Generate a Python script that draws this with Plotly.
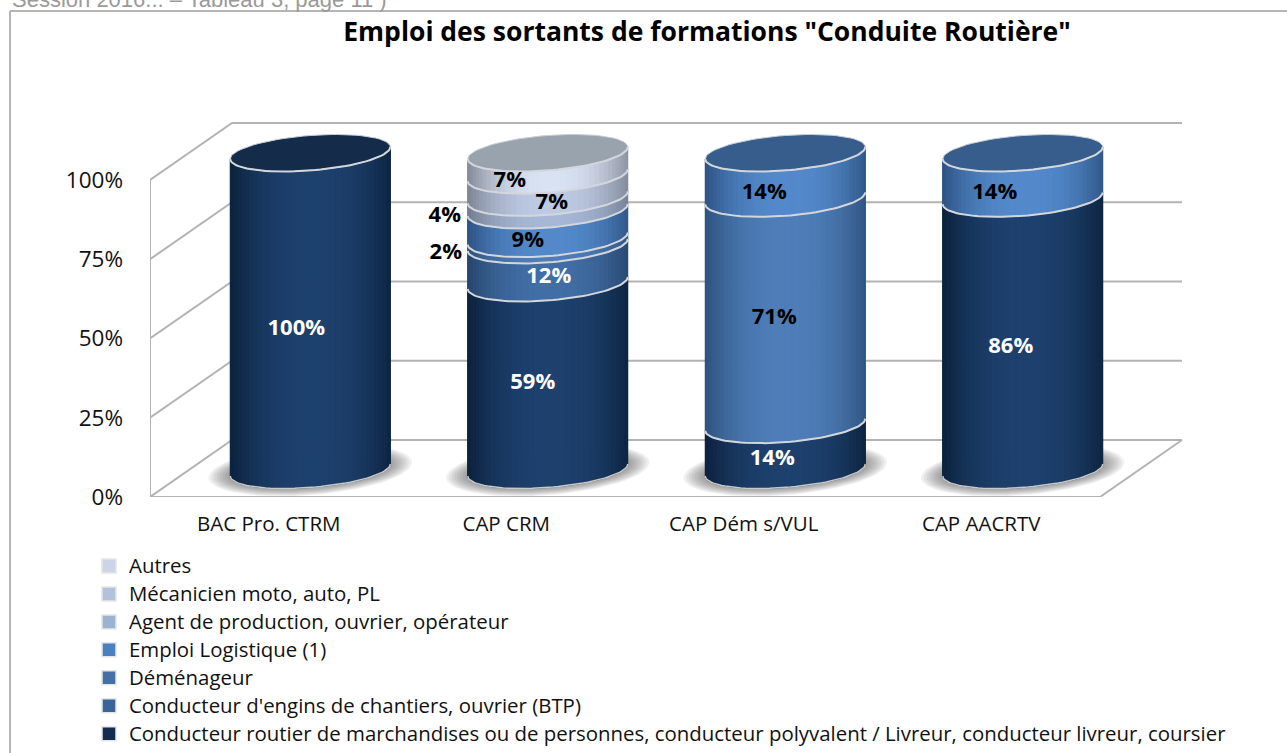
import math
import plotly.graph_objects as go

# ---------- data ----------
categories = ["BAC Pro. CTRM", "CAP CRM", "CAP Dém s/VUL", "CAP AACRTV"]
routier = [100, 59, 14.3, 85.7]
engins = [0, 12, 0, 0]
demenageur = [0, 2, 71.4, 0]
logistique = [0, 9, 14.3, 14.3]
agent = [0, 4, 0, 0]
mecanicien = [0, 7, 0, 0]
autres = [0, 7, 0, 0]
y_ticks = [0, 25, 50, 75, 100]

series_names = [
    "Conducteur routier de marchandises ou de personnes, conducteur polyvalent / Livreur, conducteur livreur, coursier",
    "Conducteur d'engins de chantiers, ouvrier (BTP)",
    "Déménageur",
    "Emploi Logistique (1)",
    "Agent de production, ouvrier, opérateur",
    "Mécanicien moto, auto, PL",
    "Autres",
]
series_values = [routier, engins, demenageur, logistique, agent, mecanicien, autres]

# ---------- style ----------
W, H = 1287, 753
FONT = "Open Sans"
# (centre of gradient, edge of gradient, legend key, top cap, label colour)
styles = [
    ("#1d406d", "#0d233f", "#132c4f", "#142b4a", "white"),
    ("#416ea6", "#28476e", "#3b6499", "#2f5380", "white"),
    ("#4e7db8", "#2f5480", "#4470a5", "#365d8c", "black"),
    ("#5389cb", "#2f5585", "#4a80bf", "#365d8c", "black"),
    ("#a6b8d6", "#757f93", "#9db2d3", "#8f9aa8", "black"),
    ("#bdcae3", "#7f8798", "#b3c2dc", "#959fac", "black"),
    ("#d9e2f3", "#878e9c", "#ccd5e6", "#98a3ae", "black"),
]
# label nudges in pixels: (series, category): (dx from cylinder centre, dy)
label_nudge = {
    (0, 0): (-14, 0), (0, 1): (-15, -10), (1, 1): (1, -4), (2, 1): (-102, -6),
    (3, 1): (-20, 0), (4, 1): (-103, -5), (5, 1): (4, 0), (6, 1): (-38, 0),
    (0, 2): (-13, -5), (2, 2): (-11, -11), (3, 2): (-21, 0),
    (0, 3): (-12, -4), (3, 3): (-28, 0),
}

X0_PX, Y0_PX = 150, 497
PX_PER_CAT = 237.5
PX_PER_PCT = 3.17
TOP_PX = 60
DEPTH_X, DEPTH_Y = 82, 57          # wall depth in pixels
CYL_X, CYL_Y = 41.5, 27            # cylinder centre offset
A, B, S = 80, 17.5, 6              # ellipse half width, half height, tilt


def dx(px):
    return px / PX_PER_CAT


def dy(px):
    return px / PX_PER_PCT


def hex2rgb(c):
    return tuple(int(c[i:i + 2], 16) for i in (1, 3, 5))


def mix(c1, c2, t):
    a, b = hex2rgb(c1), hex2rgb(c2)
    return "rgb(%d,%d,%d)" % tuple(round(a[i] + (b[i] - a[i]) * t) for i in range(3))


def front(cat, pct, u):
    """Front curve of the ellipse at height pct; u in [-1,1]."""
    x = cat + dx(CYL_X + A * u)
    y = pct + dy(CYL_Y) - dy(B * math.sqrt(max(0, 1 - u * u)) - S * u)
    return x, y


def ellipse(cat, pct, scale_a=1.0, scale_b=1.0, n=72):
    xs, ys = [], []
    for k in range(n + 1):
        t = 2 * math.pi * k / n
        xs.append(cat + dx(CYL_X + A * scale_a * math.cos(t)))
        ys.append(pct + dy(CYL_Y) - dy(B * scale_b * math.sin(t) - S * scale_a * math.cos(t)))
    return xs, ys


fig = go.Figure()
GRID = "#b3b3b3"


def add_line(xs, ys, color=GRID, width=2):
    fig.add_trace(go.Scatter(x=xs, y=ys, mode="lines", line=dict(color=color, width=width),
                             showlegend=False, hoverinfo="skip"))


x_left = -0.5
x_right = x_left + len(categories)
back_dx, back_dy = dx(DEPTH_X), dy(DEPTH_Y)

# walls and floor
for v in y_ticks:
    add_line([x_left, x_left + back_dx, x_right + back_dx], [v, v + back_dy, v + back_dy])
add_line([x_left, x_left], [y_ticks[0], y_ticks[-1]])
add_line([x_left, x_right, x_right + back_dx], [0, 0, back_dy])

# cylinders
N = 40
for c in range(len(categories)):
    # soft floor shadow
    for k in range(9):
        f = 1 + 0.034 * (8 - k)
        xs, ys = ellipse(c, 0, f, 1 + 0.055 * (8 - k))
        fig.add_trace(go.Scatter(x=xs, y=ys, mode="lines", fill="toself", line=dict(width=0),
                                 fillcolor="rgba(90,90,90,0.09)", showlegend=False, hoverinfo="skip"))
    base = 0
    top_idx = 0
    for s, vals in enumerate(series_values):
        v = vals[c]
        if v <= 0:
            continue
        light, dark = styles[s][0], styles[s][1]
        for i in range(N):
            u1 = -math.cos(math.pi * i / N)
            u2 = -math.cos(math.pi * (i + 1) / N)
            um = (u1 + u2) / 2
            shade = max(0, 1 - abs(um - 0.03) ** 2.4)
            p1, p2 = front(c, base, u1), front(c, base, u2)
            p3, p4 = front(c, base + v, u2), front(c, base + v, u1)
            fig.add_trace(go.Scatter(
                x=[p1[0], p2[0], p3[0], p4[0], p1[0]], y=[p1[1], p2[1], p3[1], p4[1], p1[1]],
                mode="lines", fill="toself", fillcolor=mix(dark, light, shade),
                line=dict(color=mix(dark, light, shade), width=1),
                showlegend=False, hoverinfo="skip"))
        base += v
        top_idx = s
    # top cap
    xs, ys = ellipse(c, base)
    fig.add_trace(go.Scatter(x=xs, y=ys, mode="lines", fill="toself", fillcolor=styles[top_idx][3],
                             line=dict(color="#c9ced4", width=1), showlegend=False, hoverinfo="skip"))
    # separators: front curves between segments, and base edge
    level = 0
    us = [-math.cos(math.pi * i / 48) for i in range(49)]
    add_line(*zip(*[front(c, 0, u) for u in us]), color="#c8c8c8", width=1.5)
    for vals in series_values:
        if vals[c] <= 0:
            continue
        level += vals[c]
        add_line(*zip(*[front(c, level, u) for u in us]), color="#d3d7dc", width=2)

# data labels
for s, vals in enumerate(series_values):
    for c, v in enumerate(vals):
        if v <= 0:
            continue
        mid = sum(series_values[j][c] for j in range(s)) + v / 2
        ndx, ndy = label_nudge[(s, c)]
        x = c + dx(CYL_X + ndx)
        y = mid + dy(CYL_Y) - dy(B + ndy)
        outside = ndx < -60
        fig.add_trace(go.Scatter(
            x=[x], y=[y], mode="text", text=["%d%%" % round(v)], textposition="middle center",
            textfont=dict(family=FONT, size=22, weight=700,
                          color="black" if outside else styles[s][4]),
            showlegend=False, hoverinfo="skip"))

# legend entries (top to bottom)
for s in reversed(range(len(series_names))):
    fig.add_trace(go.Scatter(
        x=[None], y=[None], mode="markers",
        name='<span style="font-size:20.4px">%s</span>' % series_names[s],
        marker=dict(symbol="square", size=14, color=styles[s][2], line=dict(color="#e6e6e6", width=1.5)),
    ))

fig.update_layout(
    width=W, height=H, margin=dict(l=0, r=0, t=0, b=0),
    paper_bgcolor="white", plot_bgcolor="white",
    font=dict(family=FONT, color="#111111"),
    title=dict(text='<b>Emploi des sortants de formations "Conduite Routière"</b>',
               font=dict(family=FONT, size=26.5, color="black"),
               x=707 / W, xanchor="center", y=1 - 32 / H, yanchor="middle"),
    xaxis=dict(domain=[X0_PX / W, 1], range=[x_left, x_left + (W - X0_PX) / PX_PER_CAT], automargin=False,
               tickmode="array", tickvals=list(range(len(categories))), ticktext=categories,
               tickfont=dict(family=FONT, size=20.5, color="#111111"), showgrid=False, zeroline=False,
               showline=False, ticks="", ticklabelstandoff=12),
    yaxis=dict(domain=[1 - Y0_PX / H, 1 - TOP_PX / H], range=[0, (Y0_PX - TOP_PX) / PX_PER_PCT], automargin=False,
               tickmode="array", tickvals=y_ticks, ticktext=["%d%%" % v for v in y_ticks],
               tickfont=dict(family=FONT, size=22.5, color="#111111"), showgrid=False, zeroline=False,
               showline=False, ticks="", ticklabelstandoff=26),
    legend=dict(x=89 / W, xanchor="left", y=0, yanchor="bottom", traceorder="normal",
                font=dict(family=FONT, size=19.2, color="#111111"),
                bgcolor="rgba(0,0,0,0)", itemclick=False, itemdoubleclick=False),
    shapes=[
        dict(type="line", xref="paper", yref="paper", x0=10 / W, x1=10 / W, y0=0, y1=1 - 11 / H,
             line=dict(color="#b5b5b5", width=2)),
        dict(type="line", xref="paper", yref="paper", x0=10 / W, x1=1, y0=1 - 11 / H, y1=1 - 11 / H,
             line=dict(color="#b5b5b5", width=2)),
        dict(type="line", xref="paper", yref="paper", x0=12 / W, x1=420 / W, y0=1 + 3 / H, y1=1 + 3 / H,
             line=dict(width=0),
             label=dict(text="Session 2016... &#8211; Tableau 3, page 11 )", textposition="start",
                        xanchor="left", yanchor="middle", padding=0,
                        font=dict(family="Liberation Sans", size=22, color="#9a9a9a"))),
    ],
)

fig.write_html("out.html", config={"displayModeBar": False},
               post_script="document.body.style.margin='0';document.body.style.overflow='hidden';")
